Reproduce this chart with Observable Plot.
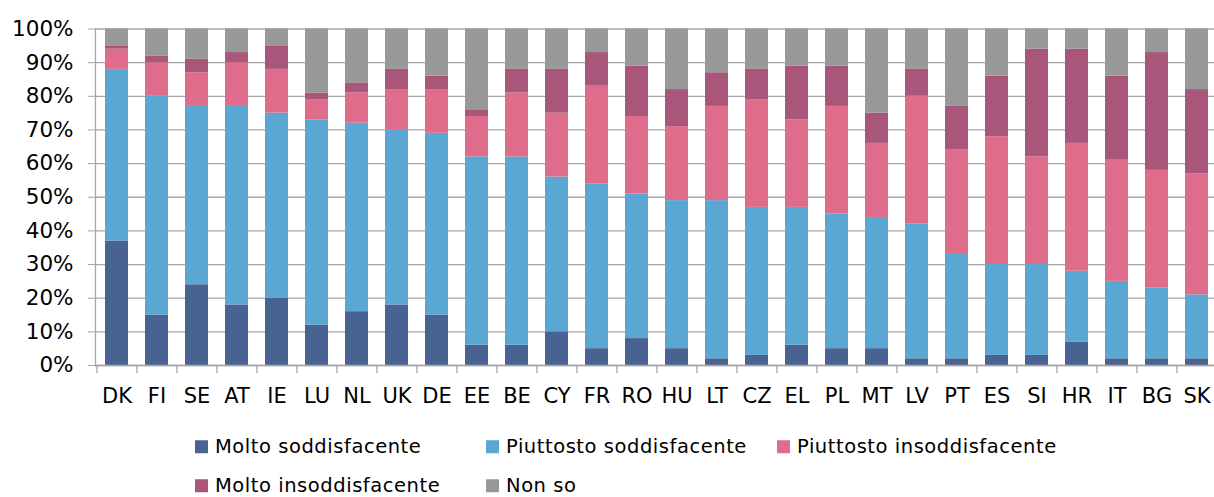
<!DOCTYPE html>
<html><head><meta charset="utf-8">
<script src="https://cdn.jsdelivr.net/npm/d3@7"></script>
<script src="https://cdn.jsdelivr.net/npm/@observablehq/plot@0.6"></script>
<style>
body{margin:0;background:#fff;}
#wrap{position:relative;width:1214px;height:497px;overflow:hidden;}
.leg{position:absolute;display:flex;align-items:center;font-family:"DejaVu Sans",sans-serif;font-size:19.5px;line-height:1;letter-spacing:0.55px;color:#000;white-space:nowrap;transform:translateY(-50%);}
.sw{display:inline-block;width:13px;height:13px;margin-right:7px;flex:none;}
</style></head>
<body><div id="wrap"></div>
<script>
const countries = ["DK","FI","SE","AT","IE","LU","NL","UK","DE","EE","BE","CY","FR","RO","HU","LT","CZ","EL","PL","MT","LV","PT","ES","SI","HR","IT","BG","SK"];
const series = ["Molto soddisfacente","Piuttosto soddisfacente","Piuttosto insoddisfacente","Molto insoddisfacente","Non so"];
const colors = ["#486391","#59a7d2","#de6c8a","#a85679","#989898"];
const moltoSodd    = [37,15,24,18,20,12,16,18,15, 6, 6,10, 5, 8, 5, 2, 3, 6, 5, 5, 2, 2, 3, 3, 7, 2, 2, 2];
const piuttSodd    = [51,65,53,59,55,61,56,52,54,56,56,46,49,43,44,47,44,41,40,39,40,31,27,27,21,23,21,19];
const piuttInsodd  = [ 6,10,10,13,13, 6, 9,12,13,12,19,19,29,23,22,28,32,26,32,22,38,31,38,32,38,36,35,36];
const moltoInsodd  = [ 1, 2, 4, 3, 7, 2, 3, 6, 4, 2, 7,13,10,15,11,10, 9,16,12, 9, 8,13,18,32,28,25,35,25];
const nonSo        = [ 5, 8, 9, 7, 5,19,16,12,14,24,12,12, 7,11,18,13,12,11,11,25,12,23,14, 6, 6,14, 7,18];
const yTicks = [0,10,20,30,40,50,60,70,80,90,100];

const values = [moltoSodd, piuttSodd, piuttInsodd, moltoInsodd, nonSo];
const data = [];
countries.forEach((c, i) => series.forEach((s, j) => data.push({country: c, series: s, value: values[j][i]})));

const W = 1214, mL = 95, mR = -3;
const step = (W - mL - mR) / countries.length;
const axisColor = "#a6a6a6";

const chart = Plot.plot({
  width: W, height: 410,
  marginLeft: mL, marginRight: mR, marginTop: 28.5, marginBottom: 45,
  style: {fontFamily: "DejaVu Sans, sans-serif", fontSize: "21px", color: "#000", background: "#fff"},
  x: {domain: countries, paddingInner: 0.426, paddingOuter: 0.213, label: null},
  y: {domain: [0, 100], label: null},
  color: {domain: series, range: colors},
  marks: [
    Plot.gridY(yTicks, {stroke: axisColor, strokeOpacity: 1, strokeWidth: 1.3}),
    Plot.barY(data, {x: "country", y: "value", fill: "series", order: series}),
    Plot.ruleY([0], {stroke: axisColor, strokeWidth: 1.3}),
    Plot.frame({anchor: "left", stroke: axisColor, strokeWidth: 1.3}),
    Plot.axisY({ticks: yTicks, tickFormat: d => d + "%", tickSize: 7, tickPadding: 15, stroke: axisColor, label: null, fontSize: 21.5}),
    Plot.axisX({tickSize: 0, tickPadding: 23, label: null, fontSize: 21}),
    Plot.axisX({tickSize: 8, dx: -step / 2, fill: "none", label: null, stroke: axisColor, strokeWidth: 1.3})
  ]
});
const wrap = document.getElementById("wrap");
wrap.appendChild(chart);

const colLeft = [195, 486, 777];
const rowY = [447, 486];
series.forEach((s, i) => {
  const d = document.createElement("div");
  d.className = "leg";
  d.style.left = colLeft[i % 3] + "px";
  d.style.top = rowY[Math.floor(i / 3)] + "px";
  d.innerHTML = `<span class="sw" style="background:${colors[i]}"></span><span>${s}</span>`;
  wrap.appendChild(d);
});
</script>
</body></html>
